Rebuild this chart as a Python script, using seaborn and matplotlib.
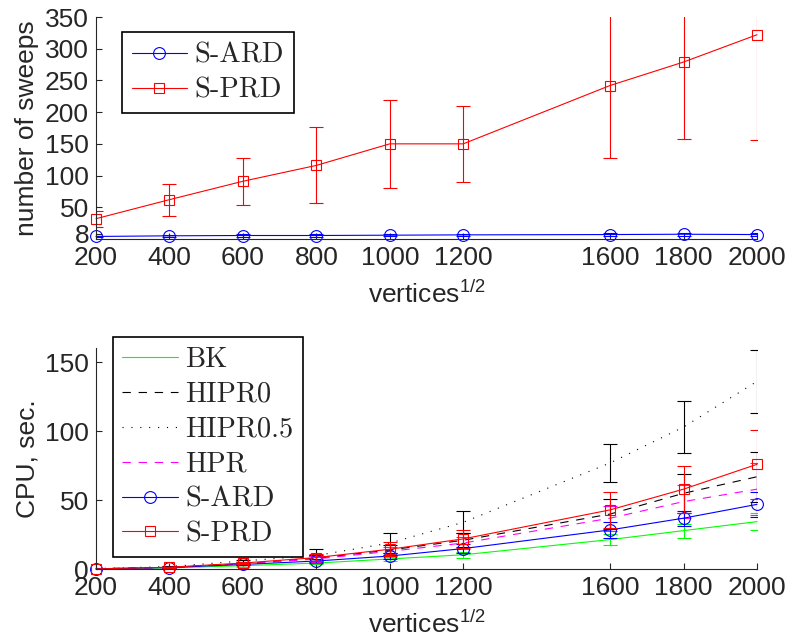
import matplotlib
matplotlib.use("Agg")
import matplotlib.pyplot as plt
import numpy as np
import pandas as pd
import seaborn as sns

# ---------------------------------------------------------------------------
# Data
# ---------------------------------------------------------------------------
side = [200, 400, 600, 800, 1000, 1200, 1600, 1800, 2000]

# top panel: number of sweeps
sweeps_ard = [4, 5, 5.5, 5.5, 6, 6.5, 7, 7.5, 7]
sweeps_ard_err = [1.5, 2, 2, 2, 2, 2, 2.5, 2.5, 2]
sweeps_prd = [32, 62, 91, 116, 150, 150, 242, 279, 322]
sweeps_prd_err = [12.5, 25, 37, 60, 69, 60, 115, 121, 166]

# bottom panel: CPU seconds
cpu_bk = [0.3, 1.0, 2.6, 4.5, 7.5, 10.5, 21.5, 28, 34.5]
cpu_bk_err = [0.1, 0.3, 0.6, 1.0, 1.5, 2, 4, 5, 6]
cpu_hipr0 = [0.4, 1.4, 4.0, 8, 14, 21, 40, 55, 67]
cpu_hipr0_err = [0.1, 0.3, 0.8, 2, 3.5, 5, 11, 14, 18]
cpu_hipr05 = [0.5, 2.0, 6, 10, 19, 34, 77, 103, 136]
cpu_hipr05_err = [0.1, 0.4, 1, 4.5, 7.5, 8, 14, 18.5, 23]
cpu_hpr = [0.4, 1.3, 3.8, 7.5, 13, 19, 37, 49, 58]
cpu_hpr_err = [0.1, 0.3, 0.8, 2, 3, 4.5, 9, 12, 19]
cpu_ard = [0.3, 1.3, 3.5, 6, 9.6, 15, 28.5, 37, 47]
cpu_ard_err = [0.1, 0.3, 0.6, 1.2, 2, 3, 6, 5.5, 9]
cpu_prd = [0.3, 1.5, 4.5, 8.5, 14.5, 22, 43, 58, 76]
cpu_prd_err = [0.1, 0.4, 1, 2.5, 5, 6.5, 13, 17, 25]

sweep_yticks = [8, 50, 100, 150, 200, 250, 300, 350]
cpu_yticks = [0, 50, 100, 150]

# ---------------------------------------------------------------------------
# Style
# ---------------------------------------------------------------------------
sns.set_style("ticks")
plt.rcParams["font.family"] = ["Liberation Sans", "DejaVu Sans"]
plt.rcParams["mathtext.fontset"] = "custom"
plt.rcParams["mathtext.rm"] = "Liberation Sans"
plt.rcParams["mathtext.it"] = "Liberation Sans"
plt.rcParams["axes.edgecolor"] = "#262626"
plt.rcParams["axes.linewidth"] = 0.8
plt.rcParams["xtick.direction"] = "in"
plt.rcParams["ytick.direction"] = "in"

FS = 19
LEG_FONT = {"family": "cmr10", "size": 20.5}
LW = 0.8

fig = plt.figure(figsize=(7.9, 6.44), dpi=100)
ax1 = fig.add_axes([0.1215, 0.6289, 0.8367, 0.3447])
ax2 = fig.add_axes([0.1215, 0.1160, 0.8367, 0.3432])


def draw(ax, y, err, color, label, ls="-", dashes=None, marker=None, ms=8):
    kw = dict(color=color, lw=LW, label=label)
    if marker is not None:
        kw.update(marker=marker, markersize=ms, markerfacecolor="none",
                  markeredgecolor=color, markeredgewidth=LW)
    sns.lineplot(x=side, y=y, ax=ax, linestyle=ls, clip_on=False, **kw)
    if dashes is not None:
        ax.lines[-1].set_dashes(dashes)
    ax.errorbar(side, y, yerr=err, fmt="none", ecolor=color, elinewidth=LW,
                capsize=4.7, capthick=LW)


leg_kw = dict(loc="upper left", borderaxespad=0, prop=LEG_FONT, frameon=True,
              fancybox=False, framealpha=1, edgecolor="black",
              handlelength=1.95, handletextpad=0.25, labelspacing=0.3,
              borderpad=0.35)

# --- top panel -------------------------------------------------------------
draw(ax1, sweeps_ard, sweeps_ard_err, "#0000ff", "S-ARD", marker="o", ms=8.5)
draw(ax1, sweeps_prd, sweeps_prd_err, "#ff0000", "S-PRD", marker="s", ms=7.5)
ax1.set_xlim(200, 2000)
ax1.set_ylim(0, 350)
ax1.set_yticks(sweep_yticks)
ax1.set_ylabel("number of sweeps", fontsize=FS, labelpad=4)
leg1 = ax1.legend(bbox_to_anchor=(0.039, 0.931), **leg_kw)
leg1.get_frame().set_linewidth(1.2)

# --- bottom panel ----------------------------------------------------------
draw(ax2, cpu_bk, cpu_bk_err, "#00ff00", "BK")
draw(ax2, cpu_hipr0, cpu_hipr0_err, "black", "HIPR0", dashes=(7.5, 7))
draw(ax2, cpu_hipr05, cpu_hipr05_err, "black", "HIPR0.5", dashes=(1, 7))
draw(ax2, cpu_hpr, cpu_hpr_err, "#ff00ff", "HPR", dashes=(7.5, 7))
draw(ax2, cpu_ard, cpu_ard_err, "#0000ff", "S-ARD", marker="o", ms=8.5)
draw(ax2, cpu_prd, cpu_prd_err, "#ff0000", "S-PRD", marker="s", ms=7.5)
ax2.set_xlim(200, 2000)
ax2.set_ylim(0, 160)
ax2.set_yticks(cpu_yticks)
ax2.set_ylabel("CPU, sec.", fontsize=FS, labelpad=4)
leg2 = ax2.legend(bbox_to_anchor=(0.025, 1.052), **leg_kw)
leg2.get_frame().set_linewidth(1.2)
leg2.set_zorder(5)

for ax in (ax1, ax2):
    ax.set_xticks(side)
    ax.set_xlabel(r"vertices$^{1/2}$", fontsize=FS, labelpad=8)
    ax.tick_params(labelsize=FS, length=4, width=0.8, pad=5)
    sns.despine(ax=ax)

fig.savefig("out.png", dpi=100)
